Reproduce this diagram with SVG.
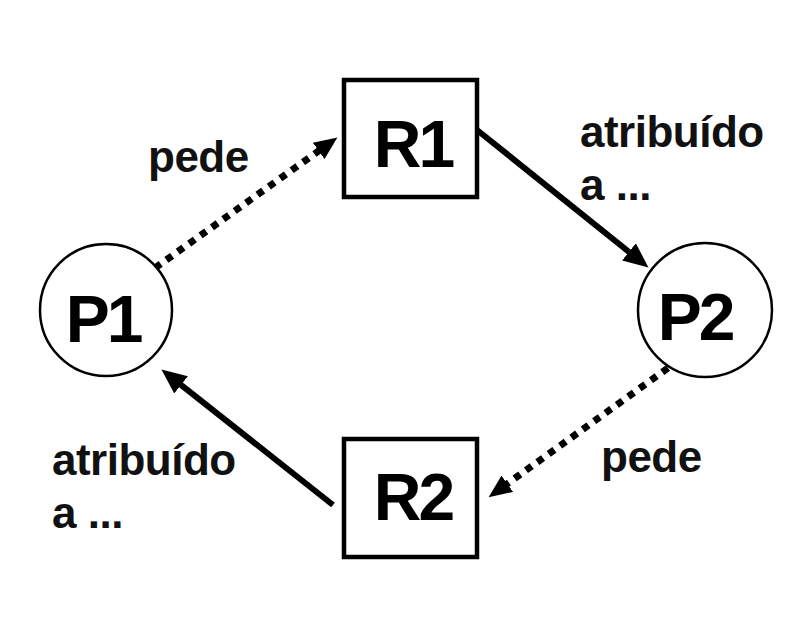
<svg xmlns="http://www.w3.org/2000/svg" width="808" height="633" viewBox="0 0 808 633">
<style>
.node{fill:#fff;stroke:#000}
.circ{stroke-width:2.5}
.box{stroke-width:4.5}
.nl{font-family:"Liberation Sans",Arial,sans-serif;font-weight:bold;font-size:66px;fill:#000;text-anchor:middle;letter-spacing:-3px}
.el{font-family:"Liberation Sans",Arial,sans-serif;font-weight:bold;font-size:44px;fill:#111;letter-spacing:-0.5px}
.solid{stroke:#000;stroke-width:6;fill:none}
.dot{stroke:#000;stroke-width:7;fill:none;stroke-dasharray:7 7}
</style>
<defs>
<marker id="ah" markerUnits="userSpaceOnUse" markerWidth="26" markerHeight="22" refX="9" refY="11" orient="auto" viewBox="0 0 26 22">
<path d="M0,0 L25,11 L0,22 z" fill="#000"/>
</marker>
<marker id="ahd" markerUnits="userSpaceOnUse" markerWidth="24" markerHeight="20" refX="9" refY="10" orient="auto" viewBox="0 0 24 20">
<path d="M0,0 L23,10 L0,20 z" fill="#000"/>
</marker>
</defs>
<rect width="808" height="633" fill="#fff"/>
<g id="connectors">
<line class="dot" x1="155" y1="268" x2="326" y2="145.7" marker-end="url(#ahd)"/>
<line class="solid" x1="477" y1="130" x2="636" y2="257.5" marker-end="url(#ah)"/>
<line class="dot" x1="668" y1="368" x2="500" y2="489" marker-end="url(#ahd)"/>
<line class="solid" x1="333" y1="505" x2="174" y2="379.3" marker-end="url(#ah)"/>
</g>
<g id="P1">
<circle class="node circ" cx="106" cy="310" r="66"/>
<text class="nl" x="103" y="342">P1</text>
</g>
<g id="P2">
<circle class="node circ" cx="705" cy="310" r="67"/>
<text class="nl" x="695" y="340">P2</text>
</g>
<g id="R1">
<rect class="node box" x="344" y="80" width="133" height="117"/>
<text class="nl" x="413" y="167">R1</text>
</g>
<g id="R2">
<rect class="node box" x="344" y="439" width="133" height="118"/>
<text class="nl" x="413" y="520">R2</text>
</g>
<g id="labels">
<text class="el" x="148" y="172">pede</text>
<text class="el" x="580" y="147">atribuído</text>
<text class="el" x="580" y="200">a ...</text>
<text class="el" x="601" y="472">pede</text>
<text class="el" x="52" y="475">atribuído</text>
<text class="el" x="52" y="528">a ...</text>
</g>
</svg>
